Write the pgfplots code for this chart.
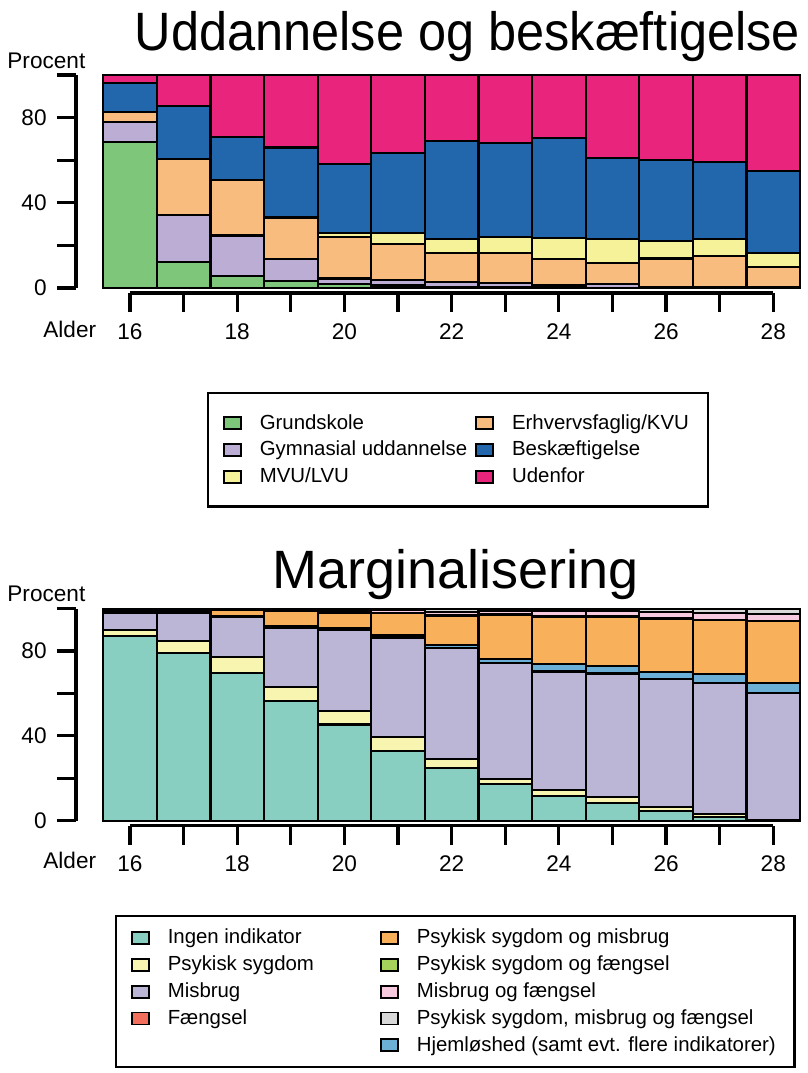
\documentclass[border=0pt]{standalone}
\usepackage{fontspec}
\setmainfont{Liberation Sans}
\usepackage{graphicx}
\usepackage{pgfplots}
\usepackage{pgfplotstable}
\pgfplotsset{compat=1.18}

% Uddannelse og beskaeftigelse
\definecolor{cGrund}{HTML}{7DC67A}
\definecolor{cGym}{HTML}{BBADD3}
\definecolor{cErhv}{HTML}{F8BC7E}
\definecolor{cMVU}{HTML}{F6F29A}
\definecolor{cBesk}{HTML}{2266AC}
\definecolor{cUden}{HTML}{E8247C}
% Marginalisering
\definecolor{cIngen}{HTML}{88CFC1}
\definecolor{cPsyk}{HTML}{F8F5B0}
\definecolor{cMis}{HTML}{BBB6D6}
\definecolor{cFaeng}{HTML}{F26F5E}
\definecolor{cPsMis}{HTML}{F8B05A}
\definecolor{cPsF}{HTML}{A5D25A}
\definecolor{cMisF}{HTML}{F6C9DF}
\definecolor{cPMF}{HTML}{D8D8D8}
\definecolor{cHjem}{HTML}{6BAED6}

\pgfplotstableread{
alder grund gym  erhv mvu  besk uden
16    68.4  9.5  4.7  0.0  13.5 3.9
17    12.1  22.2 26.1 0.0  25.0 14.6
18    5.6   19.1 26.0 0.0  20.3 29.0
19    3.4   10.1 19.5 0.5  32.5 34.0
20    1.9   2.6  19.6 1.9  32.1 41.9
21    1.2   2.6  16.7 5.5  37.5 36.5
22    0.5   2.2  13.6 6.7  46.0 31.0
23    0.3   1.9  14.1 7.8  43.8 32.1
24    0.2   1.2  12.4 9.8  47.0 29.4
25    0.1   1.6  10.2 11.1 38.0 39.0
26    0.0   0.5  13.4 8.3  37.9 39.9
27    0.0   0.3  14.7 7.9  36.1 41.0
28    0.0   0.2  9.5  6.6  38.8 44.9
}\uddannelse

\pgfplotstableread{
alder ingen psyk mis  faeng hjem psmis psf misf pmf
16    87.1  2.8  8.3  0.3   0.0  1.0   0.1 0.2  0.2
17    79.2  5.4  13.6 0.3   0.0  1.1   0.1 0.2  0.1
18    69.8  7.2  19.2 0.3   0.1  2.9   0.1 0.2  0.2
19    56.6  6.6  27.8 0.5   0.3  7.0   0.2 0.5  0.5
20    45.4  6.3  38.2 0.5   0.6  7.2   0.3 0.8  0.7
21    32.9  6.7  46.4 0.6   0.8  10.4  0.3 1.1  0.8
22    24.7  4.4  52.2 0.3   1.2  13.9  0.3 1.5  1.5
23    17.3  2.4  54.5 0.2   1.8  20.8  0.2 1.6  1.2
24    11.8  2.7  55.8 0.2   3.2  22.5  0.2 2.3  1.3
25    8.2   3.1  57.9 0.2   3.5  23.3  0.2 2.3  1.3
26    4.7   1.9  60.2 0.2   3.0  25.1  0.2 3.0  1.7
27    1.6   1.4  61.8 0.2   4.2  25.4  0.2 3.3  1.9
28    0.3   0.2  59.6 0.2   4.5  29.3  0.2 3.3  2.4
}\marginal

\pgfplotsset{
  rbars/.style={
    scale only axis, width=348.45pt,
    xmin=15.5, xmax=28.5, ymin=0, ymax=100,
    enlarge x limits=false, enlarge y limits=false,
    clip=false,
    ybar stacked, bar width=1,
    axis x line*=bottom, axis y line*=left,
    x axis line style={-, draw=black, line width=1.6pt, yshift=-2.5pt,
      shorten <=13.4pt, shorten >=13.4pt},
    y axis line style={-, draw=black, line width=1.6pt, xshift=-13.6pt},
    tick align=outside, major tick length=9.5pt,
    xtick={16,...,28}, xticklabels={16,,18,,20,,22,,24,,26,,28},
    ytick={0,20,...,100}, yticklabels={0,,40,,80,},
    xtick style={yshift=-2.5pt, line width=1.6pt, black},
    ytick style={xshift=-13.6pt, line width=1.6pt, black},
    tick label style={font=\fontsize{11.3}{13}\selectfont},
    xticklabel style={anchor=base, yshift=-16pt},
    yticklabel style={anchor=east, inner xsep=0pt, xshift=-18.6pt},
    every axis y label/.style={at={(-0.138,1.0329)}, anchor=base west,
      inner sep=0pt, font=\fontsize{11.3}{13}\selectfont},
    every axis x label/.style={anchor=base west, inner sep=0pt,
      font=\fontsize{11.3}{13}\selectfont},
    every axis title/.style={anchor=base, font=\fontsize{27}{32}\selectfont},
    every axis plot/.append style={draw=black, line width=1.1pt},
    legend image code/.code={
      \draw[#1, draw=black, line width=0.9pt] (0pt,-3pt) rectangle (8.5pt,3pt);},
    legend cell align=left,
    legend columns=2,
    legend style={draw=black, line width=1.2pt, fill=white,
      font=\fontsize{10.2}{12}\selectfont, anchor=north west,
      row sep=0.5pt,
      /tikz/every odd column/.append style={column sep=7pt}},
  },
}

\begin{document}
\begin{tikzpicture}
\useasboundingbox (0pt,0pt) rectangle (404pt,-536.5pt);

\begin{axis}[rbars,
  at={(51.6pt,-144pt)}, anchor=south west, height=106.5pt,
  title={\scalebox{0.935}[1]{Uddannelse og beskæftigelse}},
  title style={at={(0.5227,1.1174)}},
  ylabel={Procent}, xlabel={Alder},
  xlabel style={at={(-0.0864,-0.230)}},
  legend style={at={(0.1489,-0.4883)}, inner xsep=7.4pt, inner ysep=8.5pt,
    /tikz/every even column/.append style={column sep=2pt}},
]
\addplot[fill=cGrund, forget plot] table[x=alder, y=grund] {\uddannelse};
\addplot[fill=cGym, forget plot] table[x=alder, y=gym] {\uddannelse};
\addplot[fill=cErhv, forget plot] table[x=alder, y=erhv] {\uddannelse};
\addplot[fill=cMVU, forget plot] table[x=alder, y=mvu] {\uddannelse};
\addplot[fill=cBesk, forget plot] table[x=alder, y=besk] {\uddannelse};
\addplot[fill=cUden, forget plot] table[x=alder, y=uden] {\uddannelse};
\addlegendimage{fill=cGrund}\addlegendentry{Grundskole}
\addlegendimage{fill=cErhv}\addlegendentry{Erhvervsfaglig/KVU}
\addlegendimage{fill=cGym}\addlegendentry{Gymnasial uddannelse}
\addlegendimage{fill=cBesk}\addlegendentry{Beskæftigelse}
\addlegendimage{fill=cMVU}\addlegendentry{MVU/LVU}
\addlegendimage{fill=cUden}\addlegendentry{Udenfor}
\end{axis}

\begin{axis}[rbars,
  at={(51.6pt,-410.35pt)}, anchor=south west, height=106.05pt,
  title={Marginalisering},
  title style={at={(0.506,1.0957)}},
  ylabel={Procent}, xlabel={Alder},
  xlabel style={at={(-0.0864,-0.2244)}},
  legend style={at={(0.0169,-0.4446)}, inner xsep=7.4pt, inner ysep=4.5pt,
    /tikz/every even column/.append style={column sep=31pt}},
]
\addplot[fill=cIngen, forget plot] table[x=alder, y=ingen] {\marginal};
\addplot[fill=cPsyk, forget plot] table[x=alder, y=psyk] {\marginal};
\addplot[fill=cMis, forget plot] table[x=alder, y=mis] {\marginal};
\addplot[fill=cFaeng, forget plot] table[x=alder, y=faeng] {\marginal};
\addplot[fill=cHjem, forget plot] table[x=alder, y=hjem] {\marginal};
\addplot[fill=cPsMis, forget plot] table[x=alder, y=psmis] {\marginal};
\addplot[fill=cPsF, forget plot] table[x=alder, y=psf] {\marginal};
\addplot[fill=cMisF, forget plot] table[x=alder, y=misf] {\marginal};
\addplot[fill=cPMF, forget plot] table[x=alder, y=pmf] {\marginal};
\addlegendimage{fill=cIngen}\addlegendentry{Ingen indikator}
\addlegendimage{fill=cPsMis}\addlegendentry{Psykisk sygdom og misbrug}
\addlegendimage{fill=cPsyk}\addlegendentry{Psykisk sygdom}
\addlegendimage{fill=cPsF}\addlegendentry{Psykisk sygdom og fængsel}
\addlegendimage{fill=cMis}\addlegendentry{Misbrug}
\addlegendimage{fill=cMisF}\addlegendentry{Misbrug og fængsel}
\addlegendimage{fill=cFaeng}\addlegendentry{Fængsel}
\addlegendimage{fill=cPMF}\addlegendentry{Psykisk sygdom, misbrug og fængsel}
\addlegendimage{empty legend}\addlegendentry{}
\addlegendimage{fill=cHjem}\addlegendentry{Hjemløshed (samt evt. flere indikatorer)}
\end{axis}
\end{tikzpicture}
\end{document}
